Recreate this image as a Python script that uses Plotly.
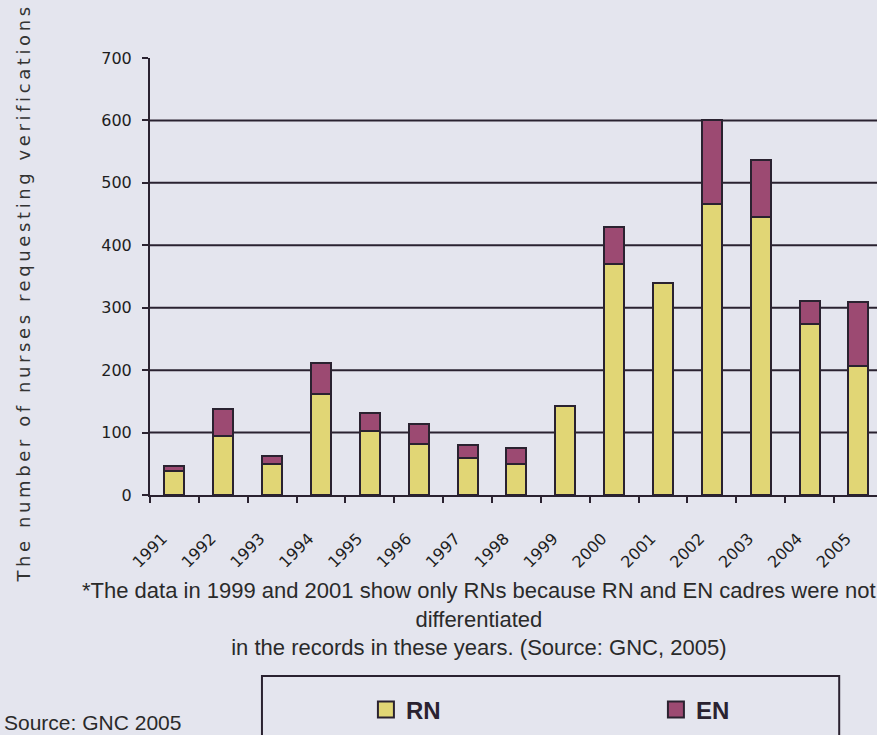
import plotly.graph_objects as go

years = ["1991", "1992", "1993", "1994", "1995", "1996", "1997", "1998",
         "1999", "2000", "2001", "2002", "2003", "2004", "2005"]
rn = [38, 95, 50, 162, 103, 82, 60, 50, 142, 370, 340, 466, 445, 274, 206]
en = [8, 43, 12, 50, 28, 31, 20, 25, None, 59, None, 135, 92, 37, 103]
y_ticks = [0, 100, 200, 300, 400, 500, 600, 700]
grid_values = [100, 200, 300, 400, 500, 600]
series_names = ["RN", "EN"]

BG = "#e4e5ee"
INK = "#2a2230"
YELLOW = "#e1d675"
PURPLE = "#9c4a72"
colors = [YELLOW, PURPLE]

fig = go.Figure()
for name, vals, col in zip(series_names, [rn, en], colors):
    fig.add_trace(go.Bar(x=years, y=vals, name=name, showlegend=False,
                         legendgroup=name,
                         marker=dict(color=col, line=dict(color=INK, width=2))))
# legend entries (square swatches)
for name, col in zip(series_names, colors):
    fig.add_trace(go.Scatter(x=[None], y=[None], mode="markers", name=name,
                             legendgroup=name,
                             marker=dict(symbol="square", size=17, color=col,
                                         line=dict(color=INK, width=2))))

shapes = [dict(type="line", xref="paper", x0=0, x1=1, yref="y", y0=v, y1=v,
               line=dict(color=INK, width=2), layer="below") for v in grid_values]
# legend frame
shapes.append(dict(type="rect", xref="paper", yref="paper",
                   x0=0.154, x1=0.948, y0=-0.62, y1=-0.414,
                   line=dict(color=INK, width=2), fillcolor="rgba(0,0,0,0)"))

fig.update_layout(
    width=877, height=735,
    margin=dict(l=150, r=0, t=58, b=240, autoexpand=False),
    paper_bgcolor=BG, plot_bgcolor=BG,
    barmode="stack", bargap=0.59,
    shapes=shapes,
    showlegend=True,
    legend=dict(orientation="h", x=0.297, xanchor="left", y=-0.44, yanchor="top",
                entrywidth=245, entrywidthmode="pixels", itemwidth=30,
                font=dict(family="Liberation Sans", size=24, color=INK, weight="bold"),
                bgcolor="rgba(0,0,0,0)", traceorder="normal"),
    xaxis=dict(type="category", range=[-0.5, 14.38], showline=True,
               linecolor=INK, linewidth=2, ticks="outside", ticklen=6,
               tickwidth=2, tickcolor=INK, tickson="boundaries",
               tickangle=-45, ticklabelstandoff=26, ticklabelshift=-12,
               tickfont=dict(family="DejaVu Sans", size=16, color="#1e1e1e"),
               showgrid=False, zeroline=False),
    yaxis=dict(range=[0, 700], tickvals=y_ticks, showline=True,
               linecolor=INK, linewidth=2, ticks="outside", ticklen=6,
               tickwidth=2, tickcolor=INK, ticklabelstandoff=7,
               tickfont=dict(family="DejaVu Sans", size=16, color="#1e1e1e"),
               showgrid=False, zeroline=False),
    annotations=[
        dict(text='<span style="letter-spacing:3.6px">The number of nurses requesting verifications</span>',
             xref="paper", yref="paper", x=-0.174, y=0.462, textangle=-90,
             showarrow=False, xanchor="center", yanchor="middle",
             font=dict(family="DejaVu Sans", size=18, color="#333333")),
        dict(text="*The data in 1999 and 2001 show only RNs because RN and EN cadres were not<br>"
                  "differentiated<br>in the records in these years. (Source: GNC, 2005)",
             xref="paper", yref="paper", x=0.452, y=-0.185, showarrow=False,
             xanchor="center", yanchor="top", align="center",
             font=dict(family="Liberation Sans", size=22, color="#2a2a2a")),
        dict(text="Source: GNC 2005", xref="paper", yref="paper",
             x=-0.204, y=-0.49, showarrow=False, xanchor="left", yanchor="top",
             font=dict(family="Liberation Sans", size=21, color="#2a2a2a")),
    ],
)

fig.write_html("out.html", config={"displayModeBar": False},
               post_script="document.body.style.margin='0';"
                           "document.body.style.background='#e4e5ee';")
